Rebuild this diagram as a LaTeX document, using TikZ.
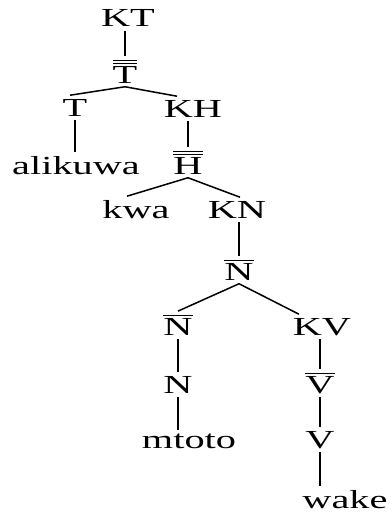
\documentclass[tikz,border=0pt]{standalone}
\usepackage{fontspec}
\setmainfont{Liberation Serif}[FakeStretch=1.55]
\usepackage{tikz}

\newcommand\sbar[1]{\vbox{\hrule height 1.3pt\kern 1.8pt\hbox{#1}}}
\newcommand\dbar[1]{\vbox{\hrule height 1.3pt\kern 1.6pt\hrule height 1.3pt\kern 1.6pt\hbox{#1}}}

\begin{document}
\begin{tikzpicture}[x=1pt,y=-1pt,line width=1.5pt,
    cat/.style={anchor=base,inner sep=3pt,font=\fontsize{26}{30}\selectfont}]
      \useasboundingbox (0,0) rectangle (391,514);

      \node[cat] (KT) at (128,27) {KT};
      \node[cat] (Tbb) at (125,83) {\dbar{T}};
      \node[cat] (T) at (75,116) {T};
      \node[cat] (KH) at (193,117) {KH};
      \node[cat] (alikuwa) at (76,174) {alikuwa};
      \node[cat] (Hbb) at (188,174) {\dbar{H}};
      \node[cat] (kwa) at (136,218) {kwa};
      \node[cat] (KN) at (237,218) {KN};
      \node[cat] (Nb) at (239,280) {\sbar{N}};
      \node[cat] (Nb2) at (178,335) {\sbar{N}};
      \node[cat] (KV) at (322,335) {KV};
      \node[cat] (N) at (178,393) {N};
      \node[cat] (Vb) at (320,393) {\sbar{V}};
      \node[cat] (mtoto) at (189,448) {mtoto};
      \node[cat] (V) at (320,448) {V};
      \node[cat] (wake) at (345,508) {wake};

      \draw (Tbb |- KT.south) -- (Tbb.north);
      \draw (Tbb.south) -- ([xshift=-5pt]T.north);
      \draw (Tbb.south) -- ([xshift=-16pt]KH.north);
      \draw (T.south) -- (T |- alikuwa.north);

      \draw (Hbb |- KH.south) -- (Hbb.north);
      \draw (Hbb.south) -- ([xshift=-9pt]kwa.north);
      \draw (Hbb.south) -- ([xshift=3pt]KN.north);

      \draw (Nb |- KN.south) -- (Nb.north);
      \draw (Nb.south) -- (Nb2.north);
      \draw (Nb.south) -- ([xshift=-23pt]KV.north);

      \draw (Nb2.south) -- (N.north);
      \draw (N.south) -- (N |- mtoto.north);
      \draw (Vb |- KV.south) -- (Vb.north);
      \draw (Vb.south) -- (V.north);
      \draw (V.south) -- (V |- wake.north);
\end{tikzpicture}
\end{document}
